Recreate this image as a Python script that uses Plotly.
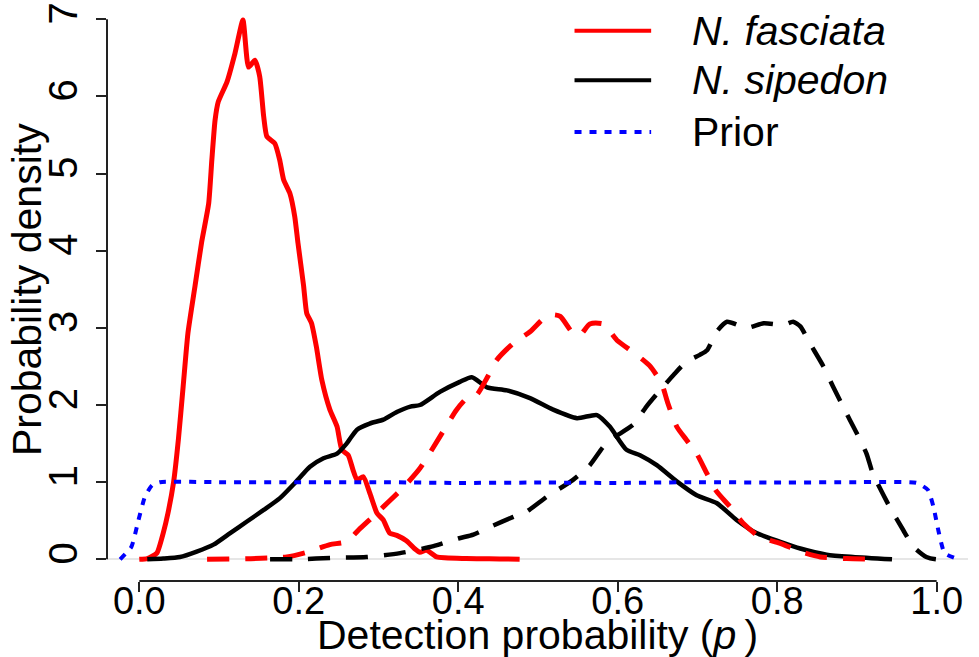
import plotly.graph_objects as go

# ---- data ----
fasciata_x = [0.000, 0.010, 0.022, 0.030, 0.036, 0.043, 0.049, 0.055, 0.061, 0.070, 0.078, 0.087,
              0.091, 0.095, 0.099, 0.110, 0.120, 0.130, 0.137, 0.145, 0.151, 0.156, 0.160, 0.170,
              0.176, 0.181, 0.189, 0.195, 0.199, 0.206, 0.210, 0.216, 0.222, 0.229, 0.239, 0.248,
              0.254, 0.262, 0.268, 0.273, 0.281, 0.289, 0.298, 0.306, 0.314, 0.323, 0.335, 0.345,
              0.352, 0.360, 0.373, 0.410, 0.452, 0.477]
fasciata_y = [0.00, 0.01, 0.08, 0.34, 0.60, 1.00, 1.55, 2.24, 2.93, 3.55, 4.10, 4.61,
              5.18, 5.69, 5.93, 6.19, 6.56, 6.99, 6.38, 6.47, 6.26, 5.74, 5.48, 5.39,
              5.18, 4.92, 4.74, 4.44, 4.10, 3.55, 3.19, 3.06, 2.76, 2.32, 1.94, 1.72,
              1.42, 1.35, 1.16, 1.03, 1.07, 0.86, 0.60, 0.51, 0.34, 0.31, 0.24, 0.14,
              0.09, 0.12, 0.03, 0.01, 0.005, 0.00]

sipedon_x = [0.010, 0.030, 0.051, 0.072, 0.093, 0.114, 0.135, 0.156, 0.176, 0.197, 0.214, 0.231,
             0.248, 0.260, 0.273, 0.289, 0.306, 0.323, 0.340, 0.352, 0.377, 0.402, 0.417, 0.436,
             0.461, 0.490, 0.519, 0.549, 0.574, 0.590, 0.611, 0.628, 0.649, 0.674, 0.699, 0.724,
             0.749, 0.774, 0.803, 0.829, 0.862, 0.895, 0.944]
sipedon_y = [0.00, 0.01, 0.03, 0.10, 0.19, 0.34, 0.49, 0.64, 0.79, 1.01, 1.20, 1.31,
             1.37, 1.50, 1.68, 1.76, 1.81, 1.91, 1.98, 2.00, 2.17, 2.30, 2.36, 2.23,
             2.19, 2.09, 1.94, 1.83, 1.87, 1.72, 1.42, 1.35, 1.22, 1.01, 0.83, 0.73,
             0.51, 0.34, 0.23, 0.14, 0.06, 0.03, 0.00]

fasciata2_x = [0.085, 0.185, 0.210, 0.239, 0.260, 0.277, 0.298, 0.314, 0.331, 0.352, 0.377, 0.398,
               0.411, 0.423, 0.436, 0.448, 0.469, 0.490, 0.507, 0.519, 0.528, 0.544, 0.553, 0.565,
               0.582, 0.599, 0.620, 0.640, 0.655, 0.663, 0.674, 0.686, 0.699, 0.712, 0.724, 0.741,
               0.757, 0.778, 0.803, 0.829, 0.854, 0.887, 0.923]
fasciata2_y = [0.00, 0.03, 0.09, 0.19, 0.23, 0.40, 0.60, 0.76, 0.93, 1.18, 1.59, 1.94,
               2.09, 2.13, 2.35, 2.58, 2.80, 2.95, 3.12, 3.17, 3.15, 2.93, 2.91, 3.05,
               3.05, 2.84, 2.68, 2.51, 2.28, 2.02, 1.72, 1.55, 1.37, 1.11, 0.88, 0.68,
               0.47, 0.29, 0.21, 0.10, 0.03, 0.01, 0.00]

sipedon2_x = [0.164, 0.200, 0.243, 0.285, 0.327, 0.369, 0.400, 0.419, 0.440, 0.469, 0.486, 0.511,
              0.544, 0.565, 0.582, 0.594, 0.620, 0.636, 0.653, 0.670, 0.686, 0.703, 0.712, 0.724,
              0.737, 0.762, 0.783, 0.808, 0.820, 0.829, 0.841, 0.858, 0.870, 0.887, 0.900, 0.912,
              0.920, 0.941, 0.958, 0.971, 0.987, 0.999, 1.012]
sipedon2_y = [0.00, 0.00, 0.02, 0.03, 0.08, 0.17, 0.27, 0.32, 0.42, 0.55, 0.62, 0.81,
              1.03, 1.22, 1.46, 1.57, 1.75, 1.98, 2.19, 2.39, 2.56, 2.65, 2.71, 2.95,
              3.08, 3.00, 3.06, 3.04, 3.08, 3.02, 2.80, 2.50, 2.24, 1.89, 1.63, 1.37,
              1.11, 0.68, 0.38, 0.16, 0.03, 0.00, 0.00]

prior_x = [-0.024, -0.010, -0.001, 0.007, 0.016, 0.026, 0.10, 0.20, 0.30, 0.40, 0.50, 0.60,
           0.70, 0.80, 0.90, 0.975, 0.989, 0.996, 1.002, 1.010, 1.027]
prior_y = [0.00, 0.16, 0.51, 0.81, 0.96, 1.00, 1.00, 1.00, 1.00, 0.99, 0.995, 0.99,
           1.00, 0.995, 1.00, 0.99, 0.90, 0.68, 0.38, 0.08, 0.00]

x_ticks = [0.0, 0.2, 0.4, 0.6, 0.8, 1.0]
y_ticks = [0, 1, 2, 3, 4, 5, 6, 7]
legend_labels = ["<i>N. fasciata</i>", "<i>N. sipedon</i>", "Prior"]
legend_colors = ["#ff0000", "#000000", "#0000ff"]
legend_dash = ["solid", "solid", "7px,8px"]

FONT = "Liberation Sans, Arial, sans-serif"
RED, BLACK, BLUE = "#ff0000", "#000000", "#0000ff"
AXIS = "#222222"

fig = go.Figure()
fig.add_trace(go.Scatter(x=fasciata_x, y=fasciata_y, mode="lines",
                         line=dict(color=RED, width=5, shape="spline", smoothing=0.5),
                         showlegend=False))
fig.add_trace(go.Scatter(x=sipedon_x, y=sipedon_y, mode="lines",
                         line=dict(color=BLACK, width=4.5, shape="spline", smoothing=0.6),
                         showlegend=False))
fig.add_trace(go.Scatter(x=fasciata2_x, y=fasciata2_y, mode="lines",
                         line=dict(color=RED, width=5, dash="22px,16px", shape="spline", smoothing=0.6),
                         showlegend=False))
fig.add_trace(go.Scatter(x=sipedon2_x, y=sipedon2_y, mode="lines",
                         line=dict(color=BLACK, width=4.5, dash="22px,16px", shape="spline", smoothing=0.6),
                         showlegend=False))
fig.add_trace(go.Scatter(x=prior_x, y=prior_y, mode="lines",
                         line=dict(color=BLUE, width=4, dash="7px,8px", shape="spline", smoothing=0.5),
                         showlegend=False))

# R-style axis lines spanning only the tick range
shapes = [
    dict(type="line", xref="paper", yref="y", x0=0, x1=0, y0=min(y_ticks), y1=max(y_ticks),
         line=dict(color=AXIS, width=2), layer="above"),
    dict(type="line", xref="x", yref="paper", x0=min(x_ticks), x1=max(x_ticks), y0=0, y1=0,
         line=dict(color=AXIS, width=2), layer="above"),
]

# manual legend (long line keys as in the original)
annotations = []
leg_rows = [0.947, 0.862, 0.773]
for lab, col, dsh, ry in zip(legend_labels, legend_colors, legend_dash, leg_rows):
    shapes.append(dict(type="line", xref="paper", yref="paper", x0=0.543, x1=0.632, y0=ry, y1=ry,
                       line=dict(color=col, width=4, dash=dsh)))
    annotations.append(dict(xref="paper", yref="paper", x=0.677, y=ry, text=lab, showarrow=False,
                            xanchor="left", yanchor="middle",
                            font=dict(family=FONT, size=41, color="black")))

annotations.append(dict(xref="paper", yref="paper", x=0.5, y=-0.093,
                        text="Detection probability (<i>p</i>\u2009)", showarrow=False,
                        xanchor="center", yanchor="middle",
                        font=dict(family=FONT, size=41, color="black")))
annotations.append(dict(xref="paper", yref="y", x=-0.092, y=3.5, xanchor="center", yanchor="middle",
                        text="Probability density", showarrow=False, textangle=-90,
                        font=dict(family=FONT, size=41, color="black")))

fig.update_layout(
    width=979, height=657,
    margin=dict(l=107, r=11, t=0, b=76, autoexpand=False),
    paper_bgcolor="white", plot_bgcolor="white",
    shapes=shapes, annotations=annotations,
    xaxis=dict(range=[-0.0405, 1.0393], tickvals=x_ticks, tickformat=".1f",
               showgrid=False, zeroline=False, showline=False,
               ticks="outside", ticklen=10, tickwidth=2, tickcolor=AXIS,
               ticklabelstandoff=-24,
               tickfont=dict(family=FONT, size=38, color="black")),
    yaxis=dict(range=[-0.2813, 7.2505], tickvals=y_ticks, tickangle=-90,
               showgrid=False, zeroline=True, zerolinecolor="#e6e6e6", zerolinewidth=1.5,
               showline=False,
               ticks="outside", ticklen=10, tickwidth=2, tickcolor=AXIS,
               ticklabelstandoff=3,
               tickfont=dict(family=FONT, size=40, color="black")),
)

fig.write_html("out.html", config={"displayModeBar": False},
               post_script="document.body.style.margin='0px';document.body.style.overflow='hidden';")
